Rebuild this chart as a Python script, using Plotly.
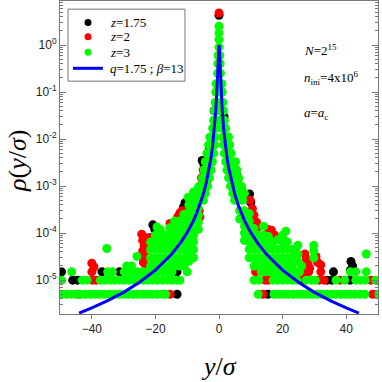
import plotly.graph_objects as go

# ---- data (x = y/sigma, y = rho) ----
# single-count floors of the histograms, per series
black_floor = [-13.2, 15.4]
black_row2 = [-46, -44.5, 34, 35.5, 41.2]
black_row3 = [-49.5, -36.8, -31.3, -13.2, 36]
black_cloud = [(-20.8, 1.5e-4), (-21.7, 8e-5), (-20.2, 1.2e-4), (-10.7, 4.4e-4), (-11.2, 3.5e-4),
               (-5.3, 3.5e-3), (-4.8, 3e-3), (-3.6, 1.4e-3), (-3.0, 6e-3), (-1.5, 0.04),
               (0, 4.3), (1.6, 0.03), (3.4, 5e-3), (5, 2.2e-3), (5.6, 1.7e-3),
               (9.6, 6.8e-4), (10, 4.5e-4), (21, 6.5e-5), (24, 3.9e-5),
               (41.5, 2.5e-5), (42, 2e-5), (41.3, 1.6e-5)]

red_floor = [-44, -15.4, 13.8, 48.3]
red_row2 = [-39.8, -38.6, 14.5, 15.5, 26, 31.5, 33, 38, 47.8]
red_row3 = [-40, 11.5, 26.8, 28.2, 32]
red_cloud = [(-40, 2.3e-5), (-39.3, 1.9e-5),
             (-24.3, 9.5e-5), (-24, 7e-5), (-23.5, 5.5e-5), (-24, 4.2e-5), (-23.3, 3.2e-5),
             (-23.8, 2.4e-5), (-23, 2e-5), (-22.4, 8e-5), (-22.6, 5e-5),
             (-15.4, 1.6e-4), (-12.3, 2.7e-4), (-12.5, 2e-4), (-11.5, 3e-4), (-13, 2.2e-4),
             (-7, 5e-4), (-6.2, 3e-4), (-6, 2.2e-4), (-6, 1e-3), (-5.5, 1.5e-3), (-5, 2.2e-3),
             (0, 4.8), (6, 1.4e-3), (7, 9e-4), (7.5, 6.5e-4),
             (9.8, 5e-4), (10.5, 3.3e-4), (11, 2.4e-4), (11.8, 1.7e-4), (12, 1.3e-4),
             (15.5, 1.2e-4), (16.5, 1.15e-4), (17.5, 9e-5),
             (27, 3.6e-5), (27.5, 2.8e-5), (28, 2.2e-5), (28.5, 1.8e-5),
             (30.5, 3.2e-5), (31, 2.4e-5), (32, 2.1e-5)]

green_floor = [-49.5, -48, -46.5, -45, -43.5, -42, -40.5, -39, -37.5, -36, -34.5, -33, -31.5,
               -30, -28.5, -27, -25.5, -24, -22.5, -21, -19.5, -18, -16.8,
               12.3, 17.3, 18.8, 20.3, 21.8, 23.3, 24.8, 26.3, 27.8, 29.3, 30.8, 32.3, 33.8,
               35.3, 36.8, 38.3, 39.8, 41.3, 42.8, 44.3, 45.8, 50.3]
green_row2 = [-49.5, -43, -41.5, -37.3, -35.8, -34.3, -32.8, -31.3, -29.8, -28.3, -26.8, -25.3,
              -23.8, -22.3, -20.8, -19.3, -17.8, -16.3, -14.8, -13.3, -12.3,
              11, 12.5, 17, 18.5, 20, 21.5, 23, 24.5, 27.5, 29, 30.3, 36.8, 39.5, 43, 44.5, 46, 49.3]
green_row3 = [-46.3, -35, -33.5, -29.8, -28.3, -26.8, -25.3, -23.8, -22.3, -20.8, -19.3, -17.8,
              -16.3, -14.8, -10, 13.3, 14.8, 16.3, 17.8, 19.3, 20.8, 22.3, 23.8, 25.3, 41.3, 43, 46.3]
green_cloud = [
    (-35.3, 4.7e-5), (-29, 2e-5), (-27.5, 2e-5), (-25.8, 3.2e-5),
    (-21.5, 2e-5), (-21.5, 3e-5), (-21.5, 4.5e-5), (-21.5, 6.5e-5),
    (-20, 2e-5), (-20, 3e-5), (-20, 4.5e-5), (-20, 6.5e-5), (-20, 9e-5), (-19.5, 1.35e-4),
    (-18.5, 2e-5), (-18.5, 3e-5), (-18.5, 4.5e-5), (-18.5, 6.5e-5), (-18.5, 9e-5), (-18.5, 1.2e-4),
    (-17, 2e-5), (-17, 3e-5), (-17, 4.5e-5), (-17, 6.5e-5), (-17, 9e-5),
    (-15.5, 2e-5), (-15.5, 3e-5), (-15.5, 4.5e-5), (-15.5, 6.5e-5), (-15.5, 9e-5), (-15.5, 1.3e-4),
    (-14, 2e-5), (-14, 3e-5), (-14, 4.5e-5), (-14, 6.5e-5), (-14, 9e-5), (-14, 1.3e-4), (-14, 1.8e-4),
    (-12.5, 2e-5), (-12.5, 3e-5), (-12.5, 4.5e-5), (-12.5, 6.5e-5), (-12.5, 9e-5), (-12.5, 1.3e-4),
    (-12.5, 1.8e-4),
    (-11, 2e-5), (-11, 3e-5), (-11, 4.5e-5), (-11, 6.5e-5), (-11, 9e-5), (-11, 1.3e-4), (-11, 1.8e-4),
    (-11, 2.5e-4), (-9.7, 5.8e-4),
    (-9.5, 2.5e-5), (-9.5, 3.5e-5), (-9.5, 5e-5), (-9.5, 7e-5), (-9.5, 1e-4), (-9.5, 1.4e-4),
    (-9.5, 2e-4), (-9.5, 2.8e-4), (-9.5, 4e-4),
    (-8, 3e-5), (-8, 4.5e-5), (-8, 6.5e-5), (-8, 9e-5), (-8, 1.3e-4), (-8, 1.8e-4), (-8, 2.6e-4),
    (-8, 3.7e-4), (-8, 5.2e-4), (-8, 7.5e-4),
    (-6.5, 1.2e-4), (-6.5, 1.7e-4), (-6.5, 2.4e-4), (-6.5, 3.4e-4), (-6.5, 4.8e-4), (-6.5, 6.8e-4),
    (-6.5, 9.5e-4),
    # peak band, left branch
    (-4.9, 5e-4), (-6.2, 5e-4), (-7.4, 5e-4), (-4.3, 7e-4), (-5.5, 7e-4), (-6.7, 7e-4),
    (-3.6, 1e-3), (-4.7, 1e-3), (-5.8, 1e-3), (-3.0, 1.5e-3), (-4.1, 1.5e-3), (-5.2, 1.5e-3),
    (-2.5, 2.2e-3), (-3.6, 2.2e-3), (-4.7, 2.2e-3), (-2.1, 3.3e-3), (-3.2, 3.3e-3), (-4.3, 3.3e-3),
    (-1.7, 5e-3), (-2.8, 5e-3), (-3.8, 5e-3), (-1.4, 7.5e-3), (-2.5, 7.5e-3), (-3.3, 7.5e-3),
    (-1.2, 0.011), (-2.3, 0.011), (-2.9, 0.011), (-1.0, 0.017), (-2.0, 0.017),
    (-0.8, 0.025), (-1.7, 0.025), (-0.6, 0.04), (-1.4, 0.04), (-0.5, 0.06), (-1.2, 0.06),
    (-0.4, 0.1), (-1.0, 0.1), (-0.3, 0.15), (-0.9, 0.15), (-0.45, 0.25), (-0.35, 0.4),
    (-0.25, 0.6),
    # centre column
    (0, 0.9), (0, 1.3), (0, 1.8), (0, 2.5),
    # peak band, right branch
    (0.25, 0.6), (0.35, 0.4), (0.45, 0.25), (0.3, 0.15), (0.9, 0.15), (0.4, 0.1), (1.0, 0.1),
    (0.5, 0.06), (1.2, 0.06), (0.6, 0.04), (1.4, 0.04), (0.8, 0.025), (1.7, 0.025),
    (1.0, 0.017), (2.0, 0.017), (1.2, 0.011), (2.3, 0.011), (3.0, 0.011),
    (1.4, 7.5e-3), (2.5, 7.5e-3), (3.4, 7.5e-3), (1.7, 5e-3), (2.8, 5e-3), (3.8, 5e-3),
    (2.1, 3.3e-3), (3.2, 3.3e-3), (4.3, 3.3e-3), (5.2, 3.3e-3),
    (2.5, 2.2e-3), (3.6, 2.2e-3), (4.7, 2.2e-3), (5.6, 2.2e-3),
    (3.0, 1.5e-3), (4.1, 1.5e-3), (5.2, 1.5e-3), (6.2, 1.5e-3),
    (3.6, 1e-3), (4.7, 1e-3), (5.8, 1e-3), (7.0, 1e-3),
    (4.3, 7e-4), (5.5, 7e-4), (6.7, 7e-4), (8.0, 7e-4), (4.9, 5e-4), (6.2, 5e-4), (7.4, 5e-4),
    (6.5, 2e-4), (6.5, 3e-4),
    (8, 7e-5), (8, 1e-4), (8, 1.4e-4), (8, 2e-4), (8, 3e-4),
    (9.5, 3e-5), (9.5, 4.5e-5), (9.5, 6.5e-5), (9.5, 9e-5), (9.5, 1.3e-4), (9.5, 1.8e-4),
    (9.5, 2.6e-4),
    (11, 2e-5), (11, 3e-5), (11, 4.5e-5), (11, 6.5e-5), (11, 9e-5), (11, 1.25e-4),
    (12.5, 2e-5), (12.5, 3e-5), (12.5, 4.5e-5), (12.5, 6.5e-5), (12.5, 9e-5),
    (14, 2e-5), (14, 3e-5), (14, 4.5e-5), (14, 6.5e-5), (14, 9e-5), (14, 1.4e-4),
    (15.5, 2e-5), (15.5, 3e-5), (15.5, 4.5e-5), (15.5, 6.5e-5), (15.5, 8.5e-5),
    (17, 2e-5), (17, 3e-5), (17, 4.5e-5), (17, 6.5e-5),
    (18.5, 2e-5), (18.5, 3e-5), (18.5, 4.5e-5), (18.5, 7.2e-5),
    (20, 2e-5), (20, 3e-5), (20, 4.5e-5), (20, 6.5e-5), (20, 9e-5), (21, 1.1e-4),
    (21.5, 2e-5), (21.5, 3e-5), (21.5, 4.5e-5), (21.5, 6.5e-5),
    (23, 2e-5), (23, 3e-5), (23, 4.5e-5),
    (24.8, 2.5e-5), (24.8, 3.6e-5), (24.8, 5.5e-5), (26, 2e-5),
    (29.8, 3e-5), (29.8, 4.2e-5), (29.8, 5.5e-5), (46.3, 3.6e-5),
]

# q-Gaussian fit (q=1.75, beta=13)
fit_x = [-44, -40, -35, -30, -25, -20, -15, -12, -10, -9, -8, -7, -6, -5, -4, -3, -2.5, -2, -1.5,
         -1, -0.75, -0.5, -0.3, -0.2, -0.1, 0,
         0.1, 0.2, 0.3, 0.5, 0.75, 1, 1.5, 2, 2.5, 3, 4, 5, 6, 7, 8, 9, 10, 12, 15, 20, 25, 30,
         35, 40, 44]
fit_y = [1.99e-6, 2.56e-6, 3.66e-6, 5.5e-6, 9.0e-6, 1.63e-5, 3.5e-5, 6.35e-5, 1.03e-4, 1.37e-4,
         1.87e-4, 2.67e-4, 4.02e-4, 6.53e-4, 1.18e-3, 2.53e-3, 4.08e-3, 7.31e-3, 1.53e-2,
         4.21e-2, 8.27e-2, 0.193, 0.432, 0.645, 0.884, 1.0,
         0.884, 0.645, 0.432, 0.193, 8.27e-2, 4.21e-2, 1.53e-2, 7.31e-3, 4.08e-3, 2.53e-3,
         1.18e-3, 6.53e-4, 4.02e-4, 2.67e-4, 1.87e-4, 1.37e-4, 1.03e-4, 6.35e-5, 3.5e-5,
         1.63e-5, 9.0e-6, 5.5e-6, 3.66e-6, 2.56e-6, 1.99e-6]

ytick_vals = [1e-5, 1e-4, 1e-3, 1e-2, 1e-1, 1]
ytick_text = ["10<sup>-5</sup>", "10<sup>-4</sup>", "10<sup>-3</sup>", "10<sup>-2</sup>",
              "10<sup>-1</sup>", "10<sup>0</sup>"]
xtick_vals = [-40, -20, 0, 20, 40]

series_names = ["<i>z</i>=1.75", "<i>z</i>=2", "<i>z</i>=3"]
series_colors = ["#000000", "#ff0000", "#00ff00"]
fit_name = "<i>q</i>=1.75 ; <i>β</i>=13"
fit_color = "#0000ff"


def collect(floor, row2, row3, cloud):
    xs = list(floor) + list(row2) + list(row3) + [p[0] for p in cloud]
    ys = [5e-6] * len(floor) + [1e-5] * len(row2) + [1.5e-5] * len(row3) + [p[1] for p in cloud]
    return xs, ys


SERIF = "Liberation Serif, Times New Roman, serif"
SANS = "Liberation Sans, Arial, sans-serif"

fig = go.Figure()
parts = [(black_floor, black_row2, black_row3, black_cloud),
         (red_floor, red_row2, red_row3, red_cloud),
         (green_floor, green_row2, green_row3, green_cloud)]
for name, color, p in zip(series_names, series_colors, parts):
    xs, ys = collect(*p)
    fig.add_trace(go.Scatter(x=xs, y=ys, mode="markers", name=name, showlegend=False,
                             marker=dict(color=color, size=9, line=dict(width=0))))

fig.add_trace(go.Scatter(x=fit_x, y=fit_y, mode="lines", name=fit_name, showlegend=False,
                         line=dict(color=fit_color, width=3)))

axis_col = "#777777"
fig.update_xaxes(range=[-50, 50], tickvals=xtick_vals, ticks="outside", ticklen=4,
                 tickcolor=axis_col, showline=True, linecolor=axis_col, linewidth=1,
                 mirror=True, showgrid=False, zeroline=False,
                 tickfont=dict(family=SANS, size=12, color="#222222"))
fig.update_yaxes(type="log", range=[-5.72, 0.936], tickvals=ytick_vals, ticktext=ytick_text,
                 ticks="inside", ticklen=6, tickcolor=axis_col, showline=True,
                 linecolor=axis_col, linewidth=1, mirror="allticks", showgrid=False,
                 zeroline=False, tickfont=dict(family=SANS, size=12, color="#222222"),
                 minor=dict(ticks="inside", ticklen=3, tickcolor=axis_col, dtick="D1",
                            showgrid=False))

# compact legend box drawn by hand (plotly's own legend rows are too tall here)
fig.add_shape(type="rect", xref="paper", yref="paper", x0=0.0252, x1=0.393, y0=0.744, y1=0.974,
              line=dict(color="#777777", width=1), fillcolor="white", layer="above")
legend_rows = [0.931, 0.886, 0.836, 0.785]
for row_y, color, name in zip(legend_rows[:3], series_colors, series_names):
    fig.add_shape(type="circle", xref="paper", yref="paper", x0=0.0771, x1=0.0991,
                  y0=row_y - 0.0112, y1=row_y + 0.0112, fillcolor=color,
                  line=dict(width=0), layer="above")
    fig.add_annotation(x=0.151, y=row_y, xref="paper", yref="paper", showarrow=False,
                       xanchor="left", yanchor="middle", text=name,
                       font=dict(family=SERIF, size=13, color="#000000"))
fig.add_shape(type="line", xref="paper", yref="paper", x0=0.041, x1=0.135,
              y0=legend_rows[3], y1=legend_rows[3], line=dict(color=fit_color, width=3),
              layer="above")
fig.add_annotation(x=0.151, y=legend_rows[3], xref="paper", yref="paper", showarrow=False,
                   xanchor="left", yanchor="middle", text=fit_name,
                   font=dict(family=SERIF, size=13, color="#000000"))

# axis titles
fig.add_annotation(x=-0.132, y=0.489, xref="paper", yref="paper", showarrow=False,
                   xanchor="center", yanchor="middle",
                   text="<i>ρ</i>(<i>y</i>/<i>σ</i>)", textangle=-90,
                   font=dict(family=SERIF, size=26, color="#000000"))
fig.add_annotation(x=0.5, y=-0.169, xref="paper", yref="paper", showarrow=False,
                   xanchor="center", yanchor="middle",
                   text="<i>y</i>/<i>σ</i>", font=dict(family=SERIF, size=26, color="#000000"))

for txt, ypos in [("<i>N</i>=2<sup>15</sup>", 0.843),
                  ("<i>n</i><sub>ini</sub>=4x10<sup>6</sup>", 0.755),
                  ("<i>a</i>=<i>a</i><sub>c</sub>", 0.64)]:
    fig.add_annotation(x=0.76, y=ypos, xref="paper", yref="paper", showarrow=False,
                       xanchor="left", yanchor="middle", text=txt,
                       font=dict(family=SERIF, size=13, color="#000000"))

fig.update_layout(
    width=382, height=382, autosize=False,
    margin=dict(l=60, r=4, t=1, b=68),
    paper_bgcolor="white", plot_bgcolor="white",
    showlegend=False,
)

# the page body has a default 8px margin; drop it so the figure sits at the window corner
fig.write_html("out.html", config={"displayModeBar": False, "responsive": False},
               post_script="document.body.style.margin='0';")
